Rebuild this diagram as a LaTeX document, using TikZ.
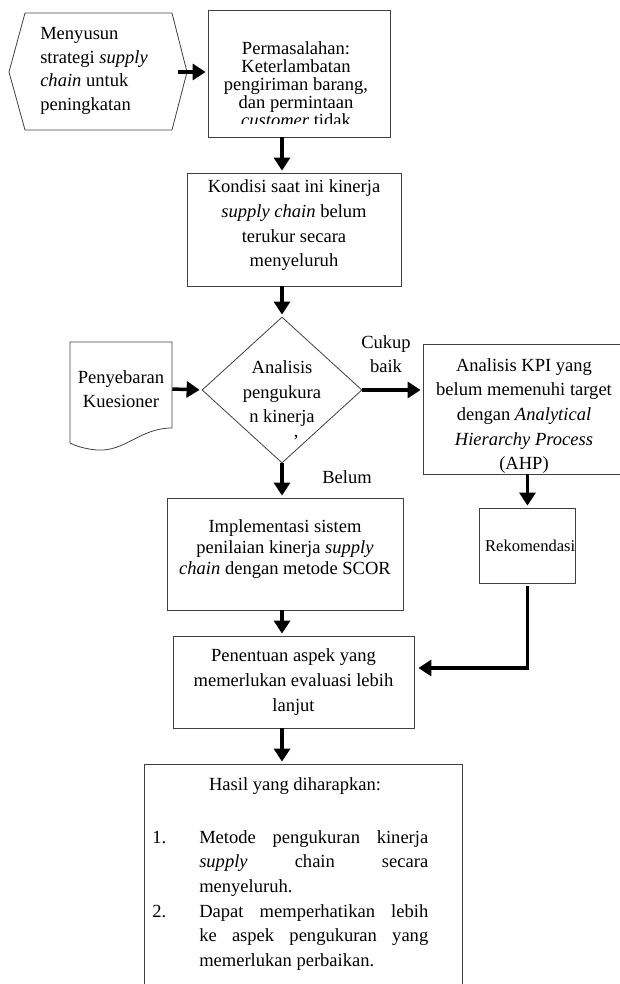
\documentclass[tikz,border=0pt]{standalone}
\usepackage{fontspec}
\setmainfont{Liberation Serif}
\usetikzlibrary{shapes.geometric,arrows.meta}

\tikzset{
 box/.style={draw=black!75,line width=.6pt,align=center,inner sep=0pt,font=\fontsize{13.9}{18.5}\selectfont},
 txt/.style={align=center,inner sep=0pt,font=\fontsize{13.9}{18.5}\selectfont},
 arr/.style={line width=2.6pt,shorten >=1.5pt,-{Triangle[length=9.75pt,width=12pt]}},
}

\begin{document}
\begin{tikzpicture}[x=.75pt,y=-.75pt]
 \path[use as bounding box,clip] (0,0) rectangle (620,984);
 % strategy (hexagon)
 \draw[black!75,line width=.6pt] (9,72)--(25,13)--(172,13)--(187,72)--(172,130)--(25,130)--cycle;
 \node[txt,align=left,anchor=west,font=\fontsize{13.9}{17.8}\selectfont] (strategi) at (40,71) {Menyusun\\strategi \emph{supply}\\\emph{chain} untuk\\peningkatan};
 \coordinate (strategiR) at (178,72);
 % problem box, text is cut at the bottom
 \node[box,minimum width=136.5pt,minimum height=95.25pt] (masalah) at (299,73.5) {};
 \begin{scope}
  \clip (208,10) rectangle (390,124);
  \node[txt,font=\fontsize{13.9}{13.5}\selectfont] (masalahT) at (296,84) {Permasalahan:\\Keterlambatan\\pengiriman barang,\\dan permintaan\\\emph{customer} tidak};
 \end{scope}
 \node[box,minimum width=160.5pt,minimum height=84.75pt] (kondisi) at (294,229.5) {Kondisi saat ini kinerja\\\emph{supply chain} belum\\terukur secara\\menyeluruh\rule[-9pt]{0pt}{1pt}};
 % decision
 \node[draw=black!75,line width=.6pt,diamond,minimum width=120pt,minimum height=109.5pt,inner sep=0pt] (analisis) at (282,390) {};
 \node[txt] (analisisT) at (282,404) {Analisis\\pengukura\\n kinerja\\\hspace*{1.5em}'};
 % questionnaire (document)
 \draw[black!75,line width=.6pt] (70,443)--(70,342)--(172,342)--(172,428) .. controls (140,428) and (125,452) .. (97,450) .. controls (85,449) and (76,446) .. (70,443);
 \node[txt,minimum width=76.5pt] (kues) at (121,389) {Penyebaran\\Kuesioner};
 \node[box,minimum width=151.5pt,minimum height=97.5pt] (ahp) at (524,409) {\rule{0pt}{20pt}Analisis KPI yang\\belum memenuhi target\\dengan \emph{Analytical}\\\emph{Hierarchy Process}\\(AHP)};
 \node[box,minimum width=69.75pt,minimum height=56.25pt,font=\fontsize{12.4}{14}\selectfont] (rekom) at (527.5,545.5) {\hspace*{4pt}Rekomendasi};
 \node[box,minimum width=177pt,minimum height=84pt,font=\fontsize{13.9}{15.75}\selectfont] (impl) at (285,554) {Implementasi sistem\\penilaian kinerja \emph{supply}\\\emph{chain} dengan metode SCOR\rule[-10pt]{0pt}{1pt}};
 \node[box,minimum width=180.75pt,minimum height=69pt] (tentu) at (293.5,682) {Penentuan aspek yang\\memerlukan evaluasi lebih\\lanjut};
 % expected results
 \node[box,minimum width=238.5pt,minimum height=177pt] (hasil) at (303,882) {};
 \node[txt] (hasilJudul) at (295,786) {Hasil yang diharapkan:};
 \node[txt,align=justify,text width=207pt,anchor=base west] (hasilList) at (152,843) {\parindent=0pt\parskip=0pt\hyphenpenalty=10000
  \hangindent=35.25pt\hangafter=1\makebox[35.25pt][l]{1.}Metode pengukuran kinerja\linebreak\emph{supply} chain secara\linebreak menyeluruh.\par
  \hangindent=35.25pt\hangafter=1\makebox[35.25pt][l]{2.}Dapat memperhatikan lebih\linebreak ke aspek pengukuran yang\linebreak memerlukan perbaikan.\par};
 \node[txt] (cukup) at (386,354) {Cukup\\baik};
 \node[txt] (belum) at (347,477) {Belum};
 % arrows
 \draw[arr] (strategiR) -- (strategiR -| masalah.west);
 \draw[arr] (masalah.south -| analisis) -- (kondisi.north -| analisis);
 \draw[arr] (kondisi.south -| analisis) -- (analisis.north);
 \draw[arr] (kues.east) -- (analisis.west);
 \draw[arr] (analisis.east) -- (analisis.east -| ahp.west);
 \draw[arr] (analisis.south) -- (impl.north -| analisis);
 \draw[arr] (ahp.south -| rekom) -- (rekom.north);
 \draw[arr] (impl.south -| analisis) -- (tentu.north -| analisis);
 \draw[arr] ([yshift=-2.25pt]rekom.south) |- ([yshift=10.5pt,xshift=1.5pt]tentu.east);
 \draw[arr] (tentu.south -| analisis) -- (hasil.north -| analisis);
\end{tikzpicture}
\end{document}
